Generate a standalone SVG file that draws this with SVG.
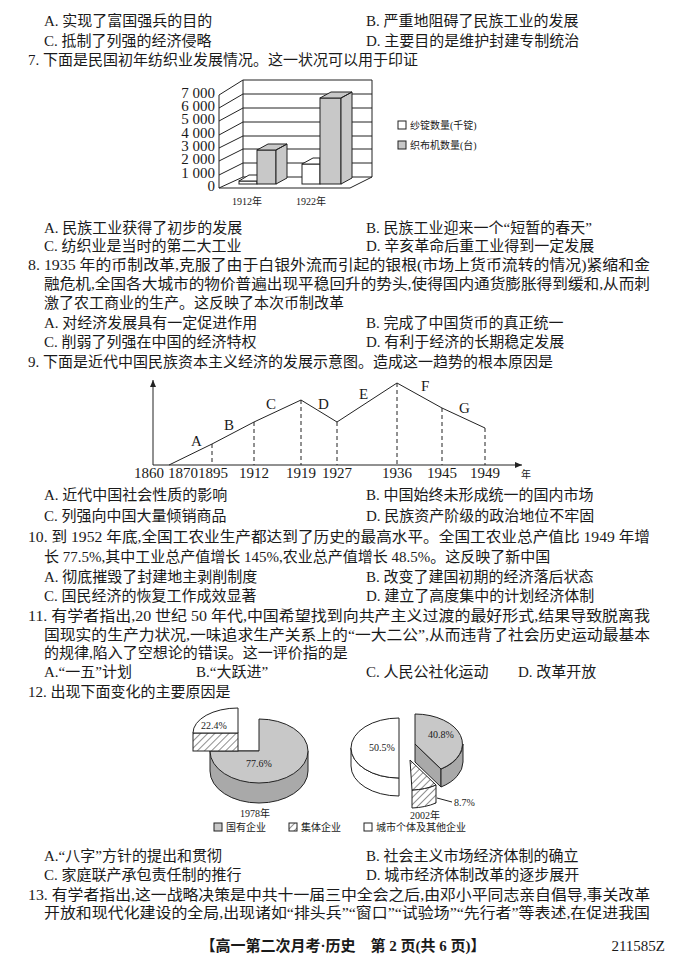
<svg xmlns="http://www.w3.org/2000/svg" width="677" height="963" viewBox="0 0 677 963">
<defs>
<style>
text{font-family:"Liberation Serif","Noto Sans CJK SC",serif;font-size:15px;fill:#1a1a1a}
.s{font-size:10px}
.t{font-family:"Liberation Serif",serif;font-size:8px}
.ln{stroke:#222;stroke-width:1;fill:none}
.g{fill:#c8c8c8;stroke:#222;stroke-width:1}
.gd{fill:#a9a9a9;stroke:#222;stroke-width:1}
.w{fill:#fff;stroke:#222;stroke-width:1}
.d{stroke:#222;stroke-width:1;stroke-dasharray:4 3;fill:none}
.h{fill:url(#hatch);stroke:#222;stroke-width:1}
</style>
<pattern id="hatch" width="5" height="5" patternUnits="userSpaceOnUse" patternTransform="rotate(45)">
<rect width="5" height="5" fill="#fff"/><line x1="0" y1="0" x2="0" y2="5" stroke="#222" stroke-width="1"/>
</pattern>
<marker id="arr" markerWidth="8" markerHeight="8" refX="7" refY="4" orient="auto"><path d="M0,1 L7,4 L0,7 z" fill="#222"/></marker>
</defs>
<rect width="677" height="963" fill="#fff"/>

<g id="text">
<text x="44" y="26">A. 实现了富国强兵的目的</text><text x="366" y="26">B. 严重地阻碍了民族工业的发展</text>
<text x="44" y="46">C. 抵制了列强的经济侵略</text><text x="366" y="46">D. 主要目的是维护封建专制统治</text>
<text x="28" y="65">7. 下面是民国初年纺织业发展情况。这一状况可以用于印证</text>
<text x="44" y="233">A. 民族工业获得了初步的发展</text><text x="366" y="233">B. 民族工业迎来一个“短暂的春天”</text>
<text x="44" y="251">C. 纺织业是当时的第二大工业</text><text x="366" y="251">D. 辛亥革命后重工业得到一定发展</text>
<text x="28" y="270" textLength="622" lengthAdjust="spacingAndGlyphs">8. 1935 年的币制改革,克服了由于白银外流而引起的银根(市场上货币流转的情况)紧缩和金</text>
<text x="44" y="289" textLength="606" lengthAdjust="spacingAndGlyphs">融危机,全国各大城市的物价普遍出现平稳回升的势头,使得国内通货膨胀得到缓和,从而刺</text>
<text x="44" y="308">激了农工商业的生产。这反映了本次币制改革</text>
<text x="44" y="328">A. 对经济发展具有一定促进作用</text><text x="366" y="328">B. 完成了中国货币的真正统一</text>
<text x="44" y="347">C. 削弱了列强在中国的经济特权</text><text x="366" y="347">D. 有利于经济的长期稳定发展</text>
<text x="28" y="367">9. 下面是近代中国民族资本主义经济的发展示意图。造成这一趋势的根本原因是</text>
<text x="44" y="500">A. 近代中国社会性质的影响</text><text x="366" y="500">B. 中国始终未形成统一的国内市场</text>
<text x="44" y="521">C. 列强向中国大量倾销商品</text><text x="366" y="521">D. 民族资产阶级的政治地位不牢固</text>
<text x="28" y="542" textLength="622" lengthAdjust="spacingAndGlyphs">10. 到 1952 年底,全国工农业生产都达到了历史的最高水平。全国工农业总产值比 1949 年增</text>
<text x="44" y="562">长 77.5%,其中工业总产值增长 145%,农业总产值增长 48.5%。这反映了新中国</text>
<text x="44" y="582">A. 彻底摧毁了封建地主剥削制度</text><text x="366" y="582">B. 改变了建国初期的经济落后状态</text>
<text x="44" y="601">C. 国民经济的恢复工作成效显著</text><text x="366" y="601">D. 建立了高度集中的计划经济体制</text>
<text x="28" y="621" textLength="622" lengthAdjust="spacingAndGlyphs">11. 有学者指出,20 世纪 50 年代,中国希望找到向共产主义过渡的最好形式,结果导致脱离我</text>
<text x="44" y="640" textLength="606" lengthAdjust="spacingAndGlyphs">国现实的生产力状况,一味追求生产关系上的“一大二公”,从而违背了社会历史运动最基本</text>
<text x="44" y="658">的规律,陷入了空想论的错误。这一评价指的是</text>
<text x="44" y="677">A.“一五”计划</text><text x="196" y="677">B.“大跃进”</text><text x="366" y="677">C. 人民公社化运动</text><text x="518" y="677">D. 改革开放</text>
<text x="28" y="697">12. 出现下面变化的主要原因是</text>
<text x="44" y="861">A.“八字”方针的提出和贯彻</text><text x="366" y="861">B. 社会主义市场经济体制的确立</text>
<text x="44" y="880">C. 家庭联产承包责任制的推行</text><text x="366" y="880">D. 城市经济体制改革的逐步展开</text>
<text x="28" y="900" textLength="622" lengthAdjust="spacingAndGlyphs">13. 有学者指出,这一战略决策是中共十一届三中全会之后,由邓小平同志亲自倡导,事关改革</text>
<text x="44" y="918" textLength="606" lengthAdjust="spacingAndGlyphs">开放和现代化建设的全局,出现诸如“排头兵”“窗口”“试验场”“先行者”等表述,在促进我国</text>
<text x="343" y="951" text-anchor="middle" font-weight="bold">【高一第二次月考·历史　第 2 页(共 6 页)】</text>
<text x="665" y="951" text-anchor="end">211585Z</text>
</g>

<g id="bar-chart">
<path class="ln" d="M219,95 L243,80 L372,80 L372,177 L350,188 L219,188 Z M243,80 L243,177 L372,177 M219,188 L243,177"/>
<path class="ln" d="M219,175 L243,163 L372,163 M219,161 L243,149 L372,149 M219,148 L243,136 L372,136 M219,135 L243,122 L372,122 M219,121 L243,108 L372,108 M219,108 L243,94 L372,94"/>
<g class="t" text-anchor="end">
<text x="215" y="191">0</text><text x="215" y="178">1 000</text><text x="215" y="164">2 000</text><text x="215" y="151">3 000</text><text x="215" y="138">4 000</text><text x="215" y="124">5 000</text><text x="215" y="111">6 000</text><text x="215" y="98">7 000</text>
</g>
<rect class="w" x="239" y="181" width="18" height="3"/>
<path class="w" d="M239,181 L249,175 L267,175 L257,181 Z"/>
<rect class="g" x="257" y="150" width="19" height="34"/>
<path class="g" d="M257,150 L268,144 L287,144 L276,150 Z M276,150 L287,144 L287,178 L276,184 Z"/>
<rect class="w" x="302" y="164" width="18" height="20"/>
<path class="w" d="M302,164 L313,158 L320,158 L320,164 Z"/>
<rect class="g" x="320" y="98" width="21" height="86"/>
<path class="g" d="M320,98 L331,92 L352,92 L341,98 Z M341,98 L352,92 L352,178 L341,184 Z"/>
<text class="s" x="232" y="205">1912年</text><text class="s" x="296" y="205">1922年</text>
<rect class="w" x="398" y="121" width="8" height="8"/><text class="s" x="410" y="129">纱锭数量(千锭)</text>
<rect class="g" x="398" y="141" width="8" height="8"/><text class="s" x="410" y="149">织布机数量(台)</text>
</g>

<g id="line-chart">
<line class="ln" x1="153" y1="465" x2="153" y2="380" marker-end="url(#arr)"/>
<line class="ln" x1="153" y1="465" x2="522" y2="465" marker-end="url(#arr)"/>
<polyline class="ln" points="169,465 212,444 254,422 301,400 337,422 397,383 442,408 485,428"/>
<path class="d" d="M212,444 V465 M254,422 V465 M301,400 V465 M337,422 V465 M397,383 V465 M442,408 V465 M485,428 V465"/>
<g class="s">
<text x="191" y="446">A</text><text x="224" y="430">B</text><text x="266" y="409">C</text><text x="318" y="409">D</text><text x="359" y="399">E</text><text x="421" y="391">F</text><text x="459" y="413">G</text>
</g>
<g class="t" text-anchor="middle">
<text x="149" y="478">1860</text><text x="183" y="478">1870</text><text x="213" y="478">1895</text><text x="254" y="478">1912</text><text x="301" y="478">1919</text><text x="337" y="478">1927</text><text x="397" y="478">1936</text><text x="442" y="478">1945</text><text x="485" y="478">1949</text>
</g>
<text class="s" x="526" y="478" text-anchor="middle">年</text>
</g>

<g id="pie-1978">
<path class="gd" d="M210,751 L210,771 A49,32 0 0 0 308,771 L308,751 Z"/>
<path class="g" d="M259,751 L259,719 A49,32 0 1 1 210,751 Z"/>
<rect class="h" x="193" y="733" width="45" height="18"/>
<path class="w" d="M238,733 L238,708 A45,25 0 0 0 193,733 Z"/>
<text class="s" x="201" y="729">22.4%</text>
<text class="s" x="246" y="767">77.6%</text>
<text class="s" x="240" y="817">1978年</text>
</g>

<g id="pie-2002">
<path class="w" d="M351,748 L351,766 A48,30 0 0 0 399,796 L399,778 A48,30 0 0 1 351,748 Z"/>
<path class="w" d="M399,748 L399,778 A48,30 0 0 1 399,718 Z"/>
<path class="gd" d="M415,744 L441,769 L441,787 L415,762 Z"/>
<path class="gd" d="M463,744 L463,762 A48,30 0 0 1 441,787 L441,769 A48,30 0 0 0 463,744 Z"/>
<path class="g" d="M415,744 L415,714 A48,30 0 0 1 441,769 Z"/>
<path class="h" d="M436,785 L436,803 A48,30 0 0 1 412,808 L412,790 A48,30 0 0 0 436,785 Z"/>
<path class="h" d="M410,760 L436,785 A48,30 0 0 1 412,790 Z"/>
<text class="s" x="369" y="751">50.5%</text>
<text class="s" x="428" y="738">40.8%</text>
<line class="ln" x1="437" y1="798" x2="452" y2="802"/>
<text class="s" x="454" y="806">8.7%</text>
<text class="s" x="410" y="819">2002年</text>
</g>

<g id="pie-legend">
<rect class="g" x="214" y="823" width="8" height="8"/><text class="s" x="226" y="831">国有企业</text>
<rect class="h" x="289" y="823" width="8" height="8"/><text class="s" x="301" y="831">集体企业</text>
<rect class="w" x="364" y="823" width="8" height="8"/><text class="s" x="376" y="831">城市个体及其他企业</text>
</g>
</svg>
